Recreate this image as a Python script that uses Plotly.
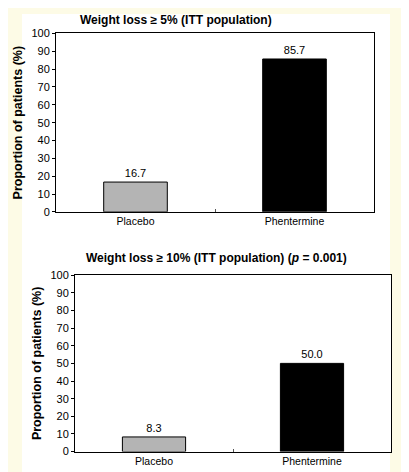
import plotly.graph_objects as go

# ---- data ----
categories = ["Placebo", "Phentermine"]
wl5_values = [16.7, 85.7]
wl10_values = [8.3, 50.0]
wl5_labels = ["16.7", "85.7"]
wl10_labels = ["8.3", "50.0"]
bar_colors = ["#b4b4b4", "#000000"]
y_ticks = [0, 10, 20, 30, 40, 50, 60, 70, 80, 90, 100]
title_top = "Weight loss \u2265 5% (ITT population)"
title_bottom = "Weight loss \u2265 10% (ITT population) (<i>p</i> = 0.001)"
y_title = "Proportion of patients (%)"

W, H = 409, 472
FONT = "Liberation Sans, Arial, sans-serif"

def fx(px):
    return px / W

def fy(py):
    return 1 - py / H

fig = go.Figure()

fig.add_trace(go.Bar(
    x=categories, y=wl5_values, text=wl5_labels, textposition="outside",
    marker=dict(color=bar_colors, line=dict(color="black", width=1)),
    width=0.4, xaxis="x", yaxis="y", cliponaxis=False,
    textfont=dict(family=FONT, size=11, color="black"), showlegend=False,
))
fig.add_trace(go.Bar(
    x=categories, y=wl10_values, text=wl10_labels, textposition="outside",
    marker=dict(color=bar_colors, line=dict(color="black", width=1)),
    width=0.4, xaxis="x2", yaxis="y2", cliponaxis=False,
    textfont=dict(family=FONT, size=11, color="black"), showlegend=False,
))

xcommon = dict(
    showline=True, linecolor="black", linewidth=1, mirror=True,
    ticks="inside", ticklen=3, tickcolor="#555", tickson="boundaries",
    showgrid=False, zeroline=False, range=[-0.5, 1.5],
    tickfont=dict(family=FONT, size=10.5, color="black"),
)
ycommon = dict(
    showline=True, linecolor="black", linewidth=1, mirror=True,
    ticks="outside", ticklen=3, tickcolor="black",
    showgrid=False, zeroline=False, range=[0, 100],
    tickvals=y_ticks, ticktext=[str(v) for v in y_ticks],
    tickfont=dict(family=FONT, size=11, color="black"),
    title=dict(text="<b>" + y_title + "</b>", standoff=6,
               font=dict(family=FONT, size=12.5, color="black")),
)

fig.update_layout(
    width=W, height=H,
    margin=dict(l=0, r=0, t=0, b=0),
    paper_bgcolor="#fdfbe6",
    plot_bgcolor="white",
    bargap=0.6,
    xaxis=dict(domain=[fx(48), fx(366)], anchor="y", **xcommon),
    yaxis=dict(domain=[fy(203), fy(20)], anchor="x", **ycommon),
    xaxis2=dict(domain=[fx(67), fx(383)], anchor="y2", **xcommon),
    yaxis2=dict(domain=[fy(449), fy(268)], anchor="x2", **ycommon),
    shapes=[dict(type="rect", xref="paper", yref="paper",
                 x0=fx(14), x1=fx(382), y0=0, y1=1,
                 fillcolor="white", line=dict(width=0), layer="below")],
    annotations=[
        dict(text="<b>" + title_top + "</b>", xref="paper", yref="paper",
             x=fx(70), y=fy(6), xanchor="left", yanchor="middle",
             showarrow=False, font=dict(family=FONT, size=12, color="black")),
        dict(text="<b>" + title_bottom + "</b>", xref="paper", yref="paper",
             x=fx(208), y=fy(250), xanchor="center", yanchor="middle",
             showarrow=False, font=dict(family=FONT, size=12, color="black")),
    ],
)

fig.write_html("out.html")
